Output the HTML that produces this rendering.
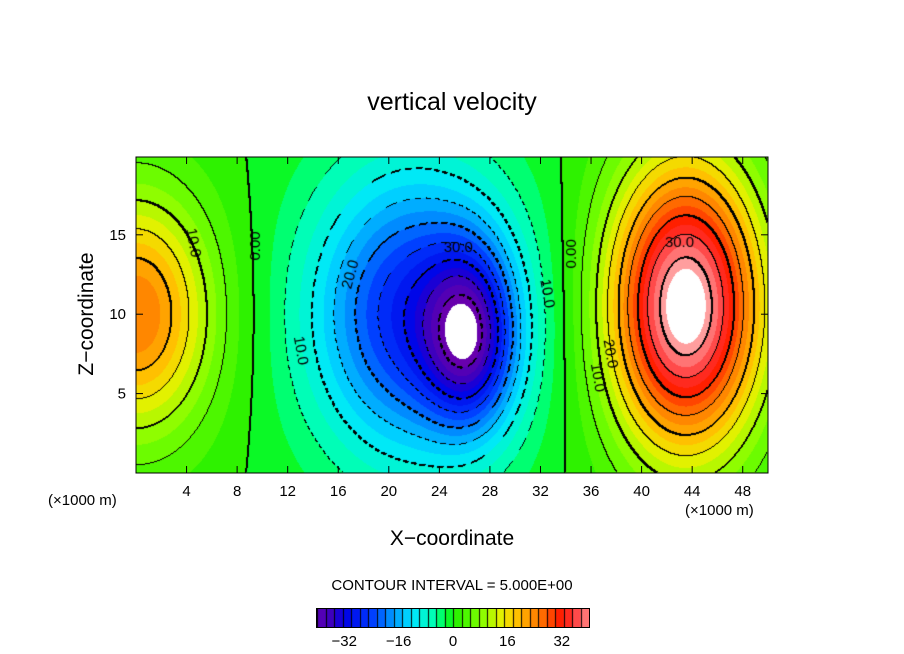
<!DOCTYPE html>
<html><head><meta charset="utf-8">
<style>
body{margin:0;background:#fff;width:904px;height:654px;overflow:hidden;font-family:"Liberation Sans",sans-serif;}
#wrap{position:relative;width:904px;height:654px;}
.t{position:absolute;color:#000;white-space:nowrap;}
canvas{position:absolute;}
</style></head>
<body>
<div id="wrap">
<div class="t" style="left:0;width:904px;text-align:center;top:88px;font-size:25px;">vertical velocity</div>
<canvas id="plot" width="632" height="316" style="left:136px;top:157px;"></canvas>
<svg id="axes" width="904" height="654" style="position:absolute;left:0;top:0;"></svg>
<div class="t" style="left:48px;top:492px;font-size:15px;">(×1000 m)</div>
<div class="t" style="left:685px;top:502px;font-size:15px;">(×1000 m)</div>
<div class="t" style="left:0;width:904px;text-align:center;top:527px;font-size:21px;">X−coordinate</div>
<div class="t" style="left:-8px;top:302px;width:190px;text-align:center;font-size:21px;transform:rotate(-90deg);">Z−coordinate</div>
<div class="t" style="left:0;width:904px;text-align:center;top:577px;font-size:15px;">CONTOUR INTERVAL = 5.000E+00</div>
<canvas id="cbar" width="272" height="18" style="left:316px;top:608px;border:1px solid #000;"></canvas>
</div>
<script>
// data
const blobCx = [0, 22, 26.5, 43.5];
const blobCz = [10, 10, 8.5, 10.5];
const blobSx = [6, 8, 3.5, 6];
const blobSz = [7.5, 9, 5.5, 9];
const blobAmp = [25, -28, -24, 45];
const xTicks = [4,8,12,16,20,24,28,32,36,40,44,48];
const zTicks = [5,10,15];
const cbarTicks = [-32,-16,0,16,32];
const labelText = ["10.0","0.00","20.0","10.0","30.0","10.0","0.00","30.0","20.0","10.0"];
const labelX = [4.5, 9.5, 17, 13, 25.5, 32.5, 34.5, 43, 37.5, 36.5];
const labelZ = [14.5, 14.3, 12.5, 7.7, 14.2, 11.3, 13.8, 14.5, 7.5, 6];
const labelRot = [80, -90, -75, 80, 0, 80, -90, 0, 80, 80];

const X0=136,X1=768,Z0=473,Z1=157,XMAX=50,ZMAX=19.9;
const sx = v => X0 + v/XMAX*(X1-X0);
const sz = v => Z0 - v/ZMAX*(Z0-Z1);
function field(x,z){let s=0;for(let i=0;i<blobAmp.length;i++){const dx=(x-blobCx[i])/blobSx[i],dz=(z-blobCz[i])/blobSz[i];s+=blobAmp[i]*Math.exp(-dx*dx-dz*dz);}return s;}
const stops=[[-42,[110,0,170]],[-36,[60,0,190]],[-32,[0,0,230]],[-24,[0,60,255]],[-18,[0,150,255]],[-12,[0,230,255]],[-6,[0,255,180]],[-2,[0,255,60]],[0,[30,240,0]],[8,[130,255,0]],[14,[230,240,0]],[18,[255,200,0]],[26,[255,110,0]],[32,[255,20,0]],[36,[255,70,70]],[42,[255,170,170]]];
function col(v){if(v<=stops[0][0])return stops[0][1];for(let i=1;i<stops.length;i++){if(v<=stops[i][0]){const a=stops[i-1],b=stops[i],t=(v-a[0])/(b[0]-a[0]);return a[1].map((c,k)=>Math.round(c+(b[1][k]-c)*t));}}return stops[stops.length-1][1];}

const cv=document.getElementById('plot'),ctx=cv.getContext('2d');
const W=cv.width,H=cv.height,img=ctx.createImageData(W,H),vals=new Float32Array(W*H);
for(let j=0;j<H;j++)for(let i=0;i<W;i++){vals[j*W+i]=field((i+0.5)/W*XMAX,(H-j-0.5)/H*ZMAX);}
for(let j=0;j<H;j++)for(let i=0;i<W;i++){const v=vals[j*W+i];let c;if(Math.abs(v)>42)c=[255,255,255];else c=col((Math.floor(v/2.5)+0.5)*2.5);const p=(j*W+i)*4;img.data[p]=c[0];img.data[p+1]=c[1];img.data[p+2]=c[2];img.data[p+3]=255;}
const lvl=v=>Math.floor(v/5);
function mark(i,j){if(i<0||j<0||i>=W||j>=H)return;const p=(j*W+i)*4;img.data[p]=img.data[p+1]=img.data[p+2]=0;}
for(let j=0;j<H-1;j++)for(let i=0;i<W-1;i++){const a=lvl(vals[j*W+i]),b=lvl(vals[j*W+i+1]),c=lvl(vals[(j+1)*W+i]);if(a!==b||a!==c){const L=Math.max(a,b,c)*5;if(Math.abs(L)>40)continue;if(L<0&&((i+j)%10)>=6)continue;mark(i,j);if(L%10===0){mark(i+1,j);mark(i,j+1);}}}
ctx.putImageData(img,0,0);
ctx.font='15px "Liberation Sans",sans-serif';ctx.textAlign='center';ctx.textBaseline='middle';
for(let k=0;k<labelText.length;k++){const px=sx(labelX[k])-X0,py=sz(labelZ[k])-Z1;ctx.save();ctx.translate(px,py);ctx.rotate(labelRot[k]*Math.PI/180);ctx.fillStyle='#000';ctx.fillText(labelText[k],0,0);ctx.restore();}

const svg=document.getElementById('axes'),NS='http://www.w3.org/2000/svg';
function el(t,a){const e=document.createElementNS(NS,t);for(const k in a)e.setAttribute(k,a[k]);svg.appendChild(e);return e;}
const fr=el('rect',{x:X0,y:Z1,width:X1-X0,height:Z0-Z1,fill:'none',stroke:'#000','stroke-width':1});


xTicks.forEach(v=>{const x=sx(v);
 const t1=el('line',{x1:x,x2:x,y1:Z0,y2:Z0-7,stroke:'#000'});
 const t2=el('line',{x1:x,x2:x,y1:Z1,y2:Z1+7,stroke:'#000'});
 const tx=el('text',{x:x,y:496,'text-anchor':'middle','font-size':15,'font-family':'Liberation Sans, sans-serif'});tx.textContent=v;});
zTicks.forEach(v=>{const y=sz(v);
 const t1=el('line',{x1:X0,x2:X0+7,y1:y,y2:y,stroke:'#000'});
 const t2=el('line',{x1:X1,x2:X1-7,y1:y,y2:y,stroke:'#000'});
 const tx=el('text',{x:126,y:y+5,'text-anchor':'end','font-size':15,'font-family':'Liberation Sans, sans-serif'});tx.textContent=v;});
// colorbar
const cb=document.getElementById('cbar'),cc=cb.getContext('2d');
const cbx=v=>(v+40)/80*cb.width;
for(let v=-40;v<40;v+=2.5){const c=col(v+1.25);cc.fillStyle='rgb('+c.join(',')+')';cc.fillRect(cbx(v),0,cbx(v+2.5)-cbx(v)+0.5,18);cc.fillStyle='#000';cc.fillRect(Math.round(cbx(v)),0,1,18);}
cbarTicks.forEach(v=>{const x=316+1+cbx(v);const tx=el('text',{x:x,y:646,'text-anchor':'middle','font-size':15,'font-family':'Liberation Sans, sans-serif'});tx.textContent=v<0?'−'+(-v):v;});
</script>
</body></html>
